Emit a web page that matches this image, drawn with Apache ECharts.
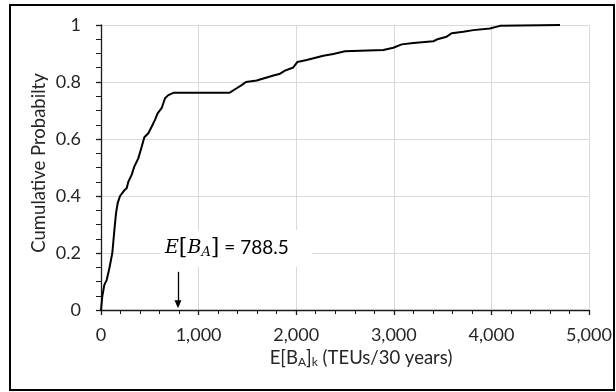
<!DOCTYPE html>
<html>
<head>
<meta charset="utf-8">
<script src="https://cdn.jsdelivr.net/npm/echarts@6/dist/echarts.min.js"></script>
<style>
  html, body { margin: 0; padding: 0; background: #fff; }
  #chart { width: 616px; height: 392px; }
</style>
</head>
<body>
<div id="chart"></div>
<script>
// Empirical CDF of expected TEU volume over 30 years
const teus = [0, 13, 34, 58, 82, 116, 137, 154, 171, 195, 239, 263, 280, 314, 341, 382, 417, 444,
  485, 519, 553, 580, 621, 656, 690, 741, 1315, 1390, 1441, 1486, 1595, 1698, 1766, 1827, 1885,
  1970, 2011, 2107, 2278, 2380, 2500, 2654, 2893, 2995, 3081, 3200, 3405, 3456, 3542, 3593,
  3712, 3815, 3985, 4088, 4703];
const cumProb = [0, 0.047, 0.088, 0.105, 0.14, 0.2, 0.28, 0.34, 0.375, 0.40, 0.42, 0.427, 0.45,
  0.474, 0.503, 0.532, 0.573, 0.606, 0.62, 0.643, 0.667, 0.69, 0.708, 0.743, 0.754, 0.762, 0.762,
  0.778, 0.789, 0.80, 0.805, 0.816, 0.823, 0.828, 0.84, 0.851, 0.87, 0.877, 0.892, 0.898, 0.908,
  0.91, 0.912, 0.92, 0.932, 0.937, 0.943, 0.951, 0.959, 0.971, 0.976, 0.982, 0.988, 0.997, 1.0];
const meanTeus = 788.5;
const xTicks = [0, 1000, 2000, 3000, 4000, 5000];
const yTicks = [0, 0.2, 0.4, 0.6, 0.8, 1];

const FONT = 'Lato';
const TXT = '#262626';

const chart = echarts.init(document.getElementById('chart'), null, { renderer: 'canvas' });

chart.setOption({
  animation: false,
  backgroundColor: '#fff',
  grid: { left: 101, right: 27, top: 25, bottom: 82 },
  xAxis: {
    type: 'value',
    min: xTicks[0], max: xTicks[xTicks.length - 1], interval: 1000,
    axisLine: { show: true, onZero: false, lineStyle: { color: '#1a1a1a', width: 1.3 } },
    axisTick: { show: true, inside: false, length: 5, lineStyle: { color: '#1a1a1a', width: 1.3 } },
    minorTick: { show: true, splitNumber: 5, length: 4, lineStyle: { color: '#1a1a1a', width: 1 } },
    splitLine: { show: true, lineStyle: { color: '#d9d9d9', width: 1 } },
    axisLabel: {
      margin: 16, fontFamily: FONT, fontSize: 18, color: TXT,
      formatter: v => v.toLocaleString('en-US')
    }
  },
  yAxis: {
    type: 'value',
    min: yTicks[0], max: yTicks[yTicks.length - 1], interval: 0.2,
    axisLine: { show: true, onZero: false, lineStyle: { color: '#1a1a1a', width: 1.3 } },
    axisTick: { show: true, inside: false, length: 5, lineStyle: { color: '#1a1a1a', width: 1.3 } },
    minorTick: { show: true, splitNumber: 4, length: 5, lineStyle: { color: '#1a1a1a', width: 1 } },
    splitLine: { show: true, lineStyle: { color: '#d9d9d9', width: 1 } },
    axisLabel: {
      margin: 20, fontFamily: FONT, fontSize: 18, color: TXT,
      formatter: v => String(Math.round(v * 10) / 10)
    }
  },
  series: [{
    type: 'line',
    data: teus.map((x, i) => [x, cumProb[i]]),
    showSymbol: false,
    smooth: false,
    lineStyle: { color: '#000', width: 2 },
    z: 3,
    markLine: {
      silent: true,
      animation: false,
      lineStyle: { color: '#000', width: 1.3, type: 'solid' },
      label: { show: false },
      data: [[
        { coord: [meanTeus, 0.134], symbol: 'none' },
        { coord: [meanTeus, 0.02], symbol: 'triangle', symbolSize: [7, 8], symbolRotate: 180 }
      ]]
    }
  }],
  graphic: [
    // chart border
    {
      type: 'rect', silent: true, z: 10,
      shape: { x: 10, y: 5, width: 604, height: 385 },
      style: { fill: null, stroke: '#000', lineWidth: 2 }
    },
    // annotation box with the mean value
    {
      type: 'rect', silent: true, z: 5,
      shape: { x: 160, y: 230, width: 152, height: 37 },
      style: { fill: '#fff', stroke: null }
    },
    {
      type: 'text', silent: true, z: 6,
      x: 165, y: 248,
      style: {
        text: '{e|E}{br|[}{e|B}{sub|A}{br|]}{n| = ' + meanTeus + '}',
        verticalAlign: 'middle',
        rich: {
          e: { fontFamily: 'DejaVu Serif', fontStyle: 'italic', fontSize: 19, fill: '#000' },
          br: { fontFamily: 'DejaVu Serif', fontSize: 22, fill: '#000' },
          sub: { fontFamily: 'DejaVu Serif', fontStyle: 'italic', fontSize: 13, fill: '#000', padding: [10, 0, 0, 0] },
          n: { fontFamily: FONT, fontSize: 19, fill: '#000' }
        }
      }
    },
    // x axis title
    {
      type: 'text', silent: true, z: 6,
      x: 361, y: 358,
      style: {
        text: '{t|E[B}{s|A}{t|]}{s|k}{t| (TEUs/30 years)}',
        align: 'center', verticalAlign: 'middle',
        rich: {
          t: { fontFamily: FONT, fontSize: 18.5, fill: TXT },
          s: { fontFamily: FONT, fontSize: 12, fill: TXT, padding: [9, 0, 0, 0] }
        }
      }
    },
    // y axis title
    {
      type: 'text', silent: true, z: 6,
      x: 39, y: 163, rotation: Math.PI / 2,
      style: {
        text: 'Cumulative Probabilty',
        align: 'center', verticalAlign: 'middle',
        fontFamily: FONT, fontSize: 18.5, fill: TXT
      }
    }
  ]
});
</script>
</body>
</html>
